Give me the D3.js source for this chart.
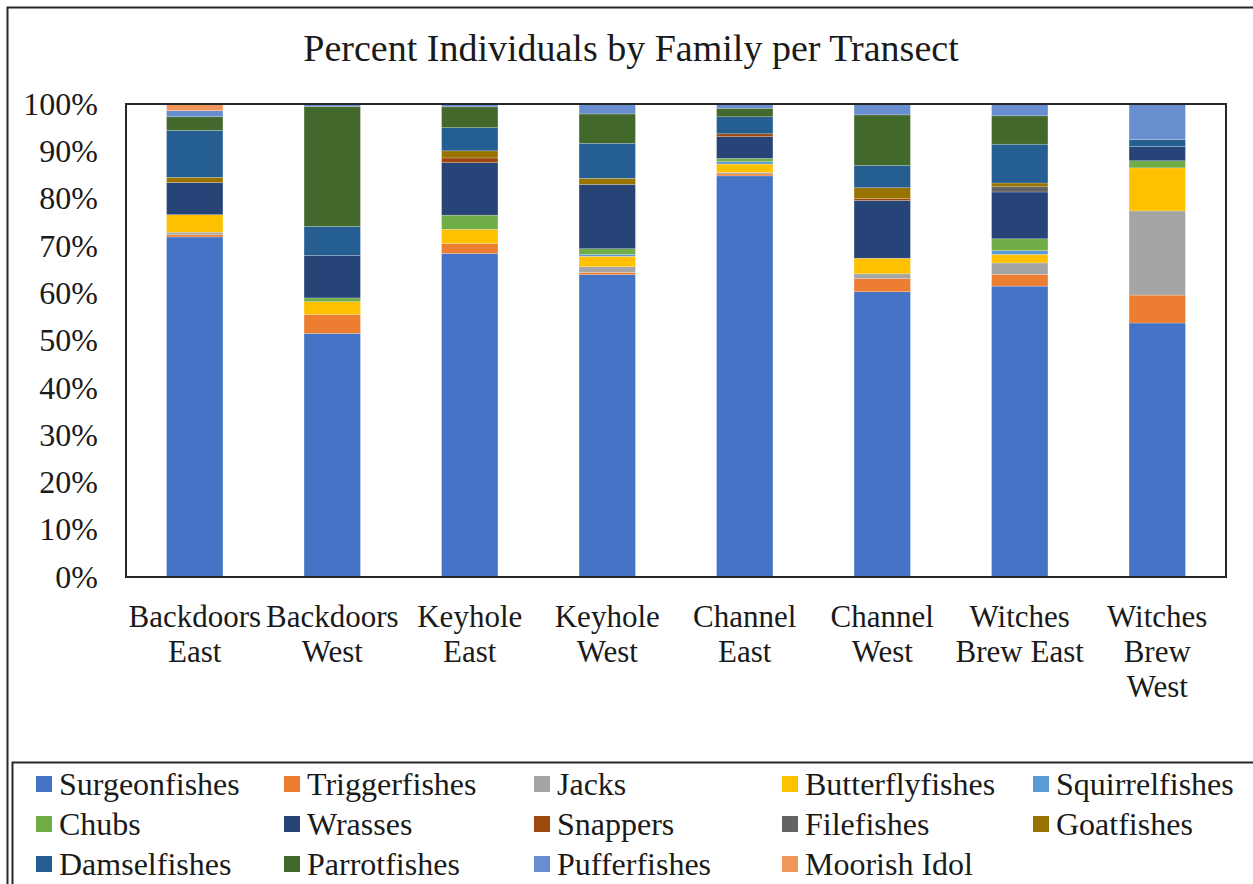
<!DOCTYPE html>
<html>
<head>
<meta charset="utf-8">
<script src="https://cdn.jsdelivr.net/npm/d3@7"></script>
<style>
  html, body { margin: 0; padding: 0; background: #fff; }
  svg { display: block; font-family: "Liberation Serif", "Times New Roman", serif; }
</style>
</head>
<body>
<svg id="chart" width="1253" height="884"></svg>
<script>
// ---- Data ----
const transects = ["Backdoors East", "Backdoors West", "Keyhole East", "Keyhole West",
                   "Channel East", "Channel West", "Witches Brew East", "Witches Brew West"];
const tickLabels = ["0%","10%","20%","30%","40%","50%","60%","70%","80%","90%","100%"];
const families = ["Surgeonfishes","Triggerfishes","Jacks","Butterflyfishes","Squirrelfishes",
                  "Chubs","Wrasses","Snappers","Filefishes","Goatfishes",
                  "Damselfishes","Parrotfishes","Pufferfishes","Moorish Idol"];
const surgeonfishes   = [71.9, 51.5, 68.4, 63.9, 84.8, 60.3, 61.5, 53.7];
const triggerfishes   = [0.5, 4.0, 2.1, 0.5, 0.4, 2.8, 2.5, 5.9];
const jacks           = [0.5, 0, 0, 1.2, 0.3, 1.0, 2.4, 17.8];
const butterflyfishes = [3.7, 2.7, 3.0, 2.2, 1.8, 3.3, 1.8, 9.1];
const squirrelfishes  = [0, 0, 0, 0.4, 0.5, 0, 0.8, 0];
const chubs           = [0, 0.8, 3.0, 1.2, 0.7, 0, 2.5, 1.5];
const wrasses         = [6.8, 9.0, 11.1, 13.6, 4.6, 12.2, 9.9, 3.0];
const snappers        = [0, 0, 1.0, 0, 0.6, 0.4, 0, 0];
const filefishes      = [0, 0, 0, 0, 0, 0, 1.1, 0];
const goatfishes      = [1.1, 0, 1.5, 1.3, 0, 2.3, 0.8, 0];
const damselfishes    = [9.9, 6.1, 4.9, 7.4, 3.6, 4.7, 8.2, 1.5];
const parrotfishes    = [2.9, 25.4, 4.4, 6.2, 1.8, 10.7, 6.0, 0];
const pufferfishes    = [1.3, 0.5, 0.6, 2.1, 0.9, 2.3, 2.5, 7.5];
const moorishIdol     = [1.4, 0, 0, 0, 0, 0, 0, 0];
const colors = ["#4472C4","#ED7D31","#A5A5A5","#FFC000","#5B9BD5","#70AD47","#264478",
                "#9E480E","#636363","#997300","#255E91","#43682B","#698ED0","#F1975A"];

const seriesValues = [surgeonfishes, triggerfishes, jacks, butterflyfishes, squirrelfishes,
  chubs, wrasses, snappers, filefishes, goatfishes, damselfishes, parrotfishes, pufferfishes, moorishIdol];

const table = transects.map((t, i) => {
  const row = { transect: t };
  families.forEach((f, j) => row[f] = seriesValues[j][i]);
  return row;
});

// ---- Layout ----
const svg = d3.select("#chart");
const plot = { left: 126, top: 104, right: 1226, bottom: 577 };

// outer frame
svg.append("rect").attr("x", 7.5).attr("y", 7.5).attr("width", 1270).attr("height", 900)
  .attr("fill", "none").attr("stroke", "#262626").attr("stroke-width", 2);

// title
svg.append("text").attr("x", 631).attr("y", 61).attr("text-anchor", "middle")
  .attr("font-size", 38).attr("fill", "#1a1a1a").text("Percent Individuals by Family per Transect");

const x = d3.scaleBand().domain(transects).range([plot.left, plot.right]).paddingInner(0.59).paddingOuter(0.295);
const y = d3.scaleLinear().domain([0, 1]).range([plot.bottom, plot.top]);

const stack = d3.stack().keys(families).offset(d3.stackOffsetExpand);
const stacked = stack(table);

const g = svg.append("g");
g.selectAll("g.series").data(stacked).join("g")
  .attr("fill", (d, i) => colors[i])
  .selectAll("rect").data(d => d).join("rect")
  .attr("x", d => x(d.data.transect))
  .attr("width", x.bandwidth())
  .attr("y", d => y(d[1]))
  .attr("height", d => Math.max(0, y(d[0]) - y(d[1])))
  .attr("stroke", "rgba(255,255,255,0.35)").attr("stroke-width", 0.6);

// plot border
svg.append("rect").attr("x", plot.left).attr("y", plot.top)
  .attr("width", plot.right - plot.left).attr("height", plot.bottom - plot.top)
  .attr("fill", "none").attr("stroke", "#262626").attr("stroke-width", 2);

// y axis
const yAxis = d3.axisLeft(y).tickValues(d3.range(0, 1.0001, 0.1))
  .tickFormat((d, i) => tickLabels[i]).tickSize(0).tickPadding(28);
const ya = svg.append("g").attr("transform", `translate(${plot.left},0)`).call(yAxis);
ya.select(".domain").remove();
ya.selectAll("text").attr("font-size", 32).attr("fill", "#1a1a1a")
  .attr("font-family", "Liberation Serif, serif");

// x axis
const xAxis = d3.axisBottom(x).tickSize(0).tickFormat("");
const xa = svg.append("g").attr("transform", `translate(0,${plot.bottom})`).call(xAxis);
xa.select(".domain").remove();
const xLines = {
  "Backdoors East": ["Backdoors", "East"],
  "Backdoors West": ["Backdoors", "West"],
  "Keyhole East": ["Keyhole", "East"],
  "Keyhole West": ["Keyhole", "West"],
  "Channel East": ["Channel", "East"],
  "Channel West": ["Channel", "West"],
  "Witches Brew East": ["Witches", "Brew East"],
  "Witches Brew West": ["Witches", "Brew", "West"]
};
transects.forEach(t => {
  const cx = x(t) + x.bandwidth() / 2;
  const txt = svg.append("text").attr("text-anchor", "middle").attr("font-size", 31).attr("fill", "#1a1a1a");
  xLines[t].forEach((line, k) => {
    txt.append("tspan").attr("x", cx).attr("y", 627 + k * 35).text(line);
  });
});

// legend
svg.append("rect").attr("x", 12.5).attr("y", 762.5).attr("width", 1260).attr("height", 140)
  .attr("fill", "#fff").attr("stroke", "#262626").attr("stroke-width", 2);
const colX = [36, 284, 534, 782, 1033];
const rowY = [784, 824, 864];
families.forEach((f, i) => {
  const r = Math.floor(i / 5), c = i % 5;
  const lg = svg.append("g").attr("transform", `translate(${colX[c]},${rowY[r]})`);
  lg.append("rect").attr("x", 0).attr("y", -8).attr("width", 16).attr("height", 16).attr("fill", colors[i]);
  lg.append("text").attr("x", 23).attr("y", 11).attr("font-size", 32).attr("fill", "#1a1a1a").text(f);
});
</script>
</body>
</html>
